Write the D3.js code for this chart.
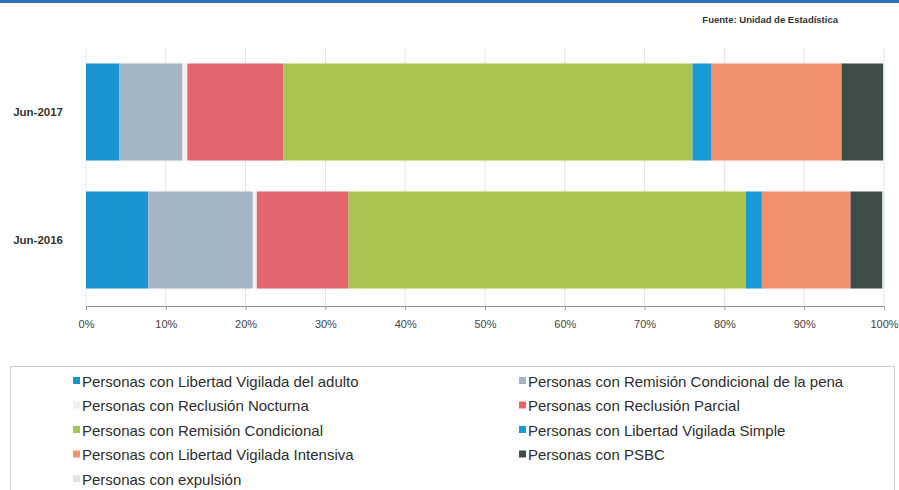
<!DOCTYPE html>
<html><head><meta charset="utf-8">
<script src="https://cdn.jsdelivr.net/npm/d3@7"></script>
<style>
body{margin:0;background:#fff;}
svg{display:block;}
</style></head>
<body>
<svg id="chart" width="899" height="490"></svg>
<script>
const categories = ["Jun-2017", "Jun-2016"];
const seriesNames = [
  "Personas con Libertad Vigilada del adulto",
  "Personas con Remisión Condicional de la pena",
  "Personas con Reclusión Nocturna",
  "Personas con Reclusión Parcial",
  "Personas con Remisión Condicional",
  "Personas con Libertad Vigilada Simple",
  "Personas con Libertad Vigilada Intensiva",
  "Personas con PSBC",
  "Personas con expulsión"
];
const values2017 = [4.2, 7.9, 0.6, 12.0, 51.3, 2.4, 16.3, 5.2, 0.1];
const values2016 = [7.8, 13.1, 0.5, 11.5, 49.8, 2.0, 11.1, 4.0, 0.2];
const seriesColors = ["#1b93d3", "#a4b6c6", "#f4eef1", "#e2646f", "#a9c44f", "#1a9bd7", "#f2906f", "#3f4d4a", "#e3e3e3"];
const tickValues = [0, 10, 20, 30, 40, 50, 60, 70, 80, 90, 100];
const sourceText = "Fuente: Unidad de Estadística";

const svg = d3.select("#chart");
const font = "'Liberation Sans', Arial, sans-serif";

// top stripe of scanned page
svg.append("rect").attr("x", 0).attr("y", 0).attr("width", 899).attr("height", 3).attr("fill", "#2a72b8");

svg.append("text").attr("x", 838).attr("y", 23).attr("text-anchor", "end")
  .attr("font-family", font).attr("font-size", 9.5).attr("font-weight", "bold")
  .attr("fill", "#333").text(sourceText);

const x = d3.scaleLinear().domain([0, 100]).range([86, 884]);
const y = d3.scaleBand().domain(categories).range([48, 304]).paddingInner(0.242).paddingOuter(0.121);

// gridlines
svg.append("g").selectAll("line").data(tickValues).join("line")
  .attr("x1", d => x(d)).attr("x2", d => x(d))
  .attr("y1", 48).attr("y2", 306)
  .attr("stroke", "#e6e3e6").attr("stroke-width", 1);

const rows = [values2017, values2016];
const stackData = categories.map((c, i) => {
  const o = {cat: c};
  seriesNames.forEach((s, j) => o[s] = rows[i][j]);
  return o;
});
const stack = d3.stack().keys(seriesNames)(stackData);

svg.append("g").selectAll("g").data(stack).join("g")
  .attr("fill", (d, i) => seriesColors[i])
  .selectAll("rect").data(d => d).join("rect")
  .attr("x", d => x(d[0]))
  .attr("width", d => Math.max(0, x(d[1]) - x(d[0])))
  .attr("y", d => y(d.data.cat))
  .attr("height", y.bandwidth());

// x axis
const xAxis = svg.append("g").attr("transform", "translate(0,306)")
  .call(d3.axisBottom(x).tickValues(tickValues).tickSize(4).tickSizeOuter(0).tickFormat(d => d + "%"));
xAxis.select(".domain").attr("stroke", "#9a9a9a");
xAxis.selectAll(".tick line").attr("stroke", "#9a9a9a");
xAxis.selectAll("text").attr("font-family", font).attr("font-size", 11)
  .attr("fill", "#444").attr("dy", "1.4em");

// y labels
svg.append("g").selectAll("text").data(categories).join("text")
  .attr("x", 63).attr("y", d => y(d) + y.bandwidth() / 2)
  .attr("text-anchor", "end").attr("dominant-baseline", "central")
  .attr("font-family", font).attr("font-size", 11.5).attr("font-weight", "bold")
  .attr("fill", "#333").text(d => d);

// legend
svg.append("rect").attr("x", 10.5).attr("y", 366.5).attr("width", 884).attr("height", 130)
  .attr("fill", "none").attr("stroke", "#cfcfcf");

const leg = svg.append("g").selectAll("g").data(seriesNames).join("g")
  .attr("transform", (d, i) => `translate(${i % 2 === 0 ? 73 : 519},${381 + Math.floor(i / 2) * 24.5})`);
leg.append("rect").attr("x", 0).attr("y", -4).attr("width", 7).attr("height", 7)
  .attr("fill", (d, i) => seriesColors[i]);
leg.append("text").attr("x", 9).attr("y", 0).attr("dominant-baseline", "central")
  .attr("font-family", font).attr("font-size", 15)
  .attr("fill", "#2e2e2e").text(d => d);
</script>
</body></html>
